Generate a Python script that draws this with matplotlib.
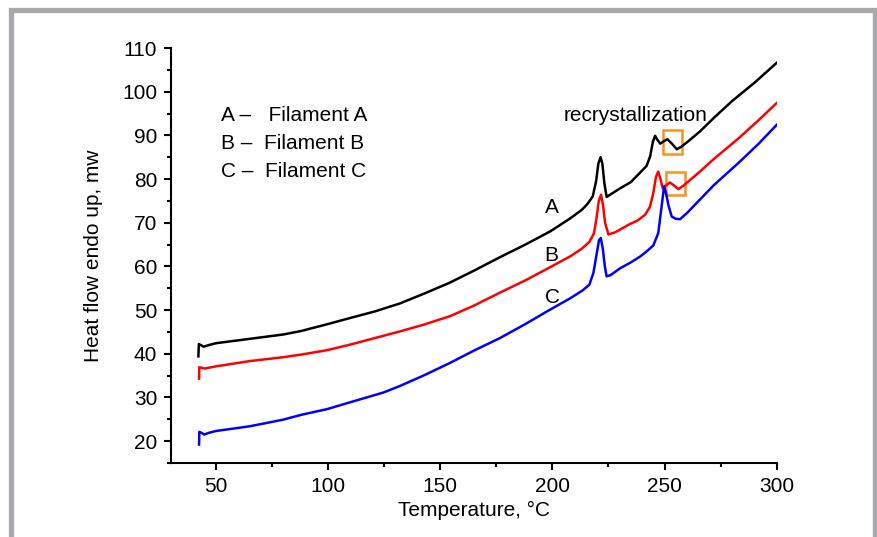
import matplotlib
matplotlib.use("Agg")
import matplotlib.pyplot as plt
from matplotlib.patches import Rectangle
from matplotlib.ticker import MultipleLocator

plt.rcParams['font.family'] = ['Liberation Sans', 'DejaVu Sans']

# curve A (black) - Filament A
temp_a = [42.2, 42.4, 43.2, 44.5, 47, 50, 65, 80, 88, 100, 110, 121, 132, 143, 154,
          165, 177, 188, 199, 208, 213, 215.5, 218, 219.5, 220.5, 221.5, 222.3, 223.2,
          224.2, 226, 230, 235, 239, 242, 243.6, 244.8, 245.8, 246.8, 248.1, 249.5,
          251.3, 253.3, 255.5, 257.5, 260, 265.8, 272, 280, 290, 300]
heat_a = [39.4, 42.2, 42.0, 41.6, 42.0, 42.4, 43.4, 44.4, 45.2, 46.8, 48.2, 49.7, 51.5,
          53.8, 56.2, 59.0, 62.2, 65.0, 68.0, 71.0, 72.9, 74.2, 76.0, 79.5, 83.5, 85.0,
          83.5, 79.0, 75.9, 76.5, 77.8, 79.3, 81.4, 83.0, 85.2, 88.5, 89.9, 89.0, 88.1,
          88.6, 89.1, 88.1, 86.8, 87.4, 88.4, 90.9, 94.0, 97.8, 102.0, 106.6]

# curve B (red) - Filament B
temp_b = [42.5, 42.6, 43.5, 45, 50, 65, 80, 88, 99.5, 110, 121, 132, 143, 154.4, 165,
          176.7, 188, 199, 208, 213, 216.5, 218.5, 219.7, 220.7, 221.7, 222.6, 223.5,
          225, 228, 231.5, 234.6, 238, 241.3, 243.5, 245, 246.2, 247.2, 248.2, 249.2,
          250.5, 252.4, 254.3, 256.2, 258.5, 261, 265.8, 272, 283, 292, 300]
heat_b = [34.3, 36.9, 36.8, 36.6, 37.1, 38.3, 39.2, 39.8, 40.8, 42.1, 43.6, 45.1, 46.7,
          48.6, 51.0, 54.0, 56.8, 59.8, 62.3, 64.0, 65.6, 67.5, 71.0, 75.0, 76.4, 74.0,
          70.0, 67.3, 67.8, 68.8, 69.7, 70.5, 71.8, 73.6, 76.8, 80.5, 81.7, 80.0, 77.9,
          78.5, 79.2, 78.5, 77.7, 78.5, 79.6, 81.7, 84.6, 89.3, 93.5, 97.4]

# curve C (blue) - Filament C
temp_c = [42.5, 42.6, 43.5, 44.8, 47, 50, 65.3, 80, 88, 99.5, 110, 124.6, 132, 143,
          154.4, 165, 176.7, 188, 199, 208, 213.5, 216.5, 218.3, 219.8, 220.8, 221.6,
          222.5, 223.4, 224.2, 226, 230, 234.6, 239, 242, 245, 247.2, 248.7, 249.8,
          250.8, 251.7, 253.2, 255, 256.9, 260, 265.8, 272, 283, 292, 300]
heat_c = [19.2, 22.1, 21.9, 21.5, 21.9, 22.3, 23.4, 24.9, 26.0, 27.3, 28.9, 31.1, 32.6,
          35.1, 37.9, 40.7, 43.6, 46.8, 50.1, 52.7, 54.5, 55.8, 58.5, 63.0, 66.0, 66.5,
          64.0, 60.0, 57.7, 58.0, 59.5, 60.8, 62.2, 63.4, 64.8, 67.6, 73.7, 78.3, 76.5,
          74.1, 71.4, 70.9, 70.8, 72.2, 75.3, 78.6, 83.7, 88.1, 92.4]

legend_lines = ["A \u2013   Filament A", "B \u2013  Filament B", "C \u2013  Filament C"]

fig = plt.figure(figsize=(8.77, 5.37), dpi=100)
ax = fig.add_axes([0.195, 0.138, 0.6906, 0.7726])

ax.plot(temp_a, heat_a, color='black', lw=1.8)
ax.plot(temp_b, heat_b, color='#ff0000', lw=1.8)
ax.plot(temp_c, heat_c, color='#0000ff', lw=1.8)

ax.set_xlim(30, 300)
ax.set_ylim(15, 110)
ax.xaxis.set_minor_locator(MultipleLocator(25))
ax.yaxis.set_minor_locator(MultipleLocator(5))
ax.set_xticks([50, 100, 150, 200, 250, 300])
ax.set_yticks(range(20, 111, 10))
ax.tick_params(which='major', length=5, width=1.5, labelsize=15, pad=5)
ax.tick_params(which='minor', length=3, width=1.5)
for s in ['top', 'right']:
    ax.spines[s].set_visible(False)
for s in ['left', 'bottom']:
    ax.spines[s].set_linewidth(1.5)

ax.set_xlabel("Temperature, \u00b0C", fontsize=15, labelpad=4)
ax.set_ylabel("Heat flow endo up, mw", fontsize=15, labelpad=14)

for i, t in enumerate(legend_lines):
    ax.text(52.2, 93.4 - i * 6.5, t, fontsize=15, va='baseline', ha='left')

ax.text(199.9, 72.3, "A", fontsize=15, ha='center', va='baseline')
ax.text(199.7, 61.3, "B", fontsize=15, ha='center', va='baseline')
ax.text(200.0, 51.6, "C", fontsize=15, ha='center', va='baseline')
ax.text(237.2, 93.2, "recrystallization", fontsize=15, ha='center', va='baseline')

ax.add_patch(Rectangle((249.3, 85.8), 8.4, 5.5, fill=False, ec='#f7931e', lw=1.8))
ax.add_patch(Rectangle((250.6, 76.3), 8.5, 5.4, fill=False, ec='#f7931e', lw=1.8))

# gray frame around figure
fig.patches.append(Rectangle((0.0131, -0.05), 0.9846, 1.0323, transform=fig.transFigure,
                             fill=False, ec='#a8a9ac', lw=3.8))

fig.savefig("out.png", dpi=100)
